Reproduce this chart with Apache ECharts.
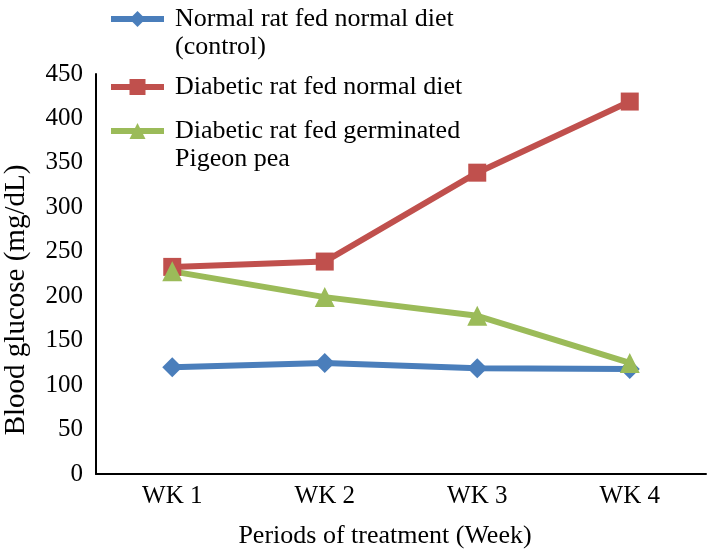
<!DOCTYPE html>
<html>
<head>
<meta charset="utf-8">
<script src="https://cdn.jsdelivr.net/npm/echarts@6/dist/echarts.min.js"></script>
<style>
  html, body { margin: 0; padding: 0; background: #fff; }
  #main { width: 709px; height: 552px; }
</style>
</head>
<body>
<div id="main"></div>
<script>
// categories and values
var weeks = ['WK 1', 'WK 2', 'WK 3', 'WK 4']
var normalRat = [120, 125, 119, 118]
var diabeticNormal = [233, 239, 339, 419]
var diabeticPea = [228, 199, 178, 125]
var seriesNames = [
  'Normal rat fed normal diet\n(control)',
  'Diabetic rat fed normal diet',
  'Diabetic rat fed germinated\nPigeon pea'
]

var font = 'Liberation Serif'
var chart = echarts.init(document.getElementById('main'))

// one legend per entry so each can sit where the original has it
// two-line names get an empty first line so the icon lines up with the first text line
function legendFor (name, top, twoLines) {
  return {
    data: [name],
    orient: 'vertical',
    left: 108,
    top: top,
    padding: 0,
    itemWidth: 53,
    itemHeight: 20,
    lineStyle: { width: 6 },
    formatter: function (n) { return twoLines ? '\n' + n : n },
    textStyle: {
      fontFamily: font,
      fontSize: 26,
      color: '#000',
      lineHeight: 28,
      padding: [0, 0, 0, 6]
    }
  }
}

var option = {
  animation: false,
  color: ['#4a7ebb', '#c0504d', '#9bbb59'],
  legend: [
    legendFor(seriesNames[0], -23, true),
    legendFor(seriesNames[1], 73, false),
    legendFor(seriesNames[2], 89, true)
  ],
  grid: { left: 96, right: 3, top: 74, bottom: 78, outerBoundsMode: 'none' },
  xAxis: {
    type: 'category',
    data: weeks,
    boundaryGap: true,
    name: 'Periods of treatment (Week)',
    nameLocation: 'middle',
    nameGap: 49,
    nameTextStyle: { fontFamily: font, fontSize: 26, color: '#000', padding: [0, 32, 0, 0] },
    axisLine: { show: true, lineStyle: { color: '#000', width: 2 } },
    axisTick: { show: false },
    splitLine: { show: false },
    axisLabel: { fontFamily: font, fontSize: 25, color: '#000', margin: 10 }
  },
  yAxis: {
    type: 'value',
    min: 0,
    max: 450,
    interval: 50,
    name: 'Blood glucose (mg/dL)',
    nameLocation: 'middle',
    nameGap: 65,
    nameMoveOverlap: false,
    nameTextStyle: { fontFamily: font, fontSize: 29, color: '#000', padding: [0, 52, 0, 0] },
    axisLine: { show: true, lineStyle: { color: '#000', width: 2 } },
    axisTick: { show: false },
    splitLine: { show: false },
    axisLabel: { fontFamily: font, fontSize: 25, color: '#000', margin: 13 }
  },
  series: [
    {
      name: seriesNames[0],
      type: 'line',
      data: normalRat,
      symbol: 'diamond',
      symbolSize: 20,
      lineStyle: { width: 6 }
    },
    {
      name: seriesNames[1],
      type: 'line',
      data: diabeticNormal,
      symbol: 'rect',
      symbolSize: 18,
      lineStyle: { width: 6 }
    },
    {
      name: seriesNames[2],
      type: 'line',
      data: diabeticPea,
      symbol: 'triangle',
      symbolSize: 20,
      lineStyle: { width: 6 }
    }
  ]
}
chart.setOption(option)
</script>
</body>
</html>
